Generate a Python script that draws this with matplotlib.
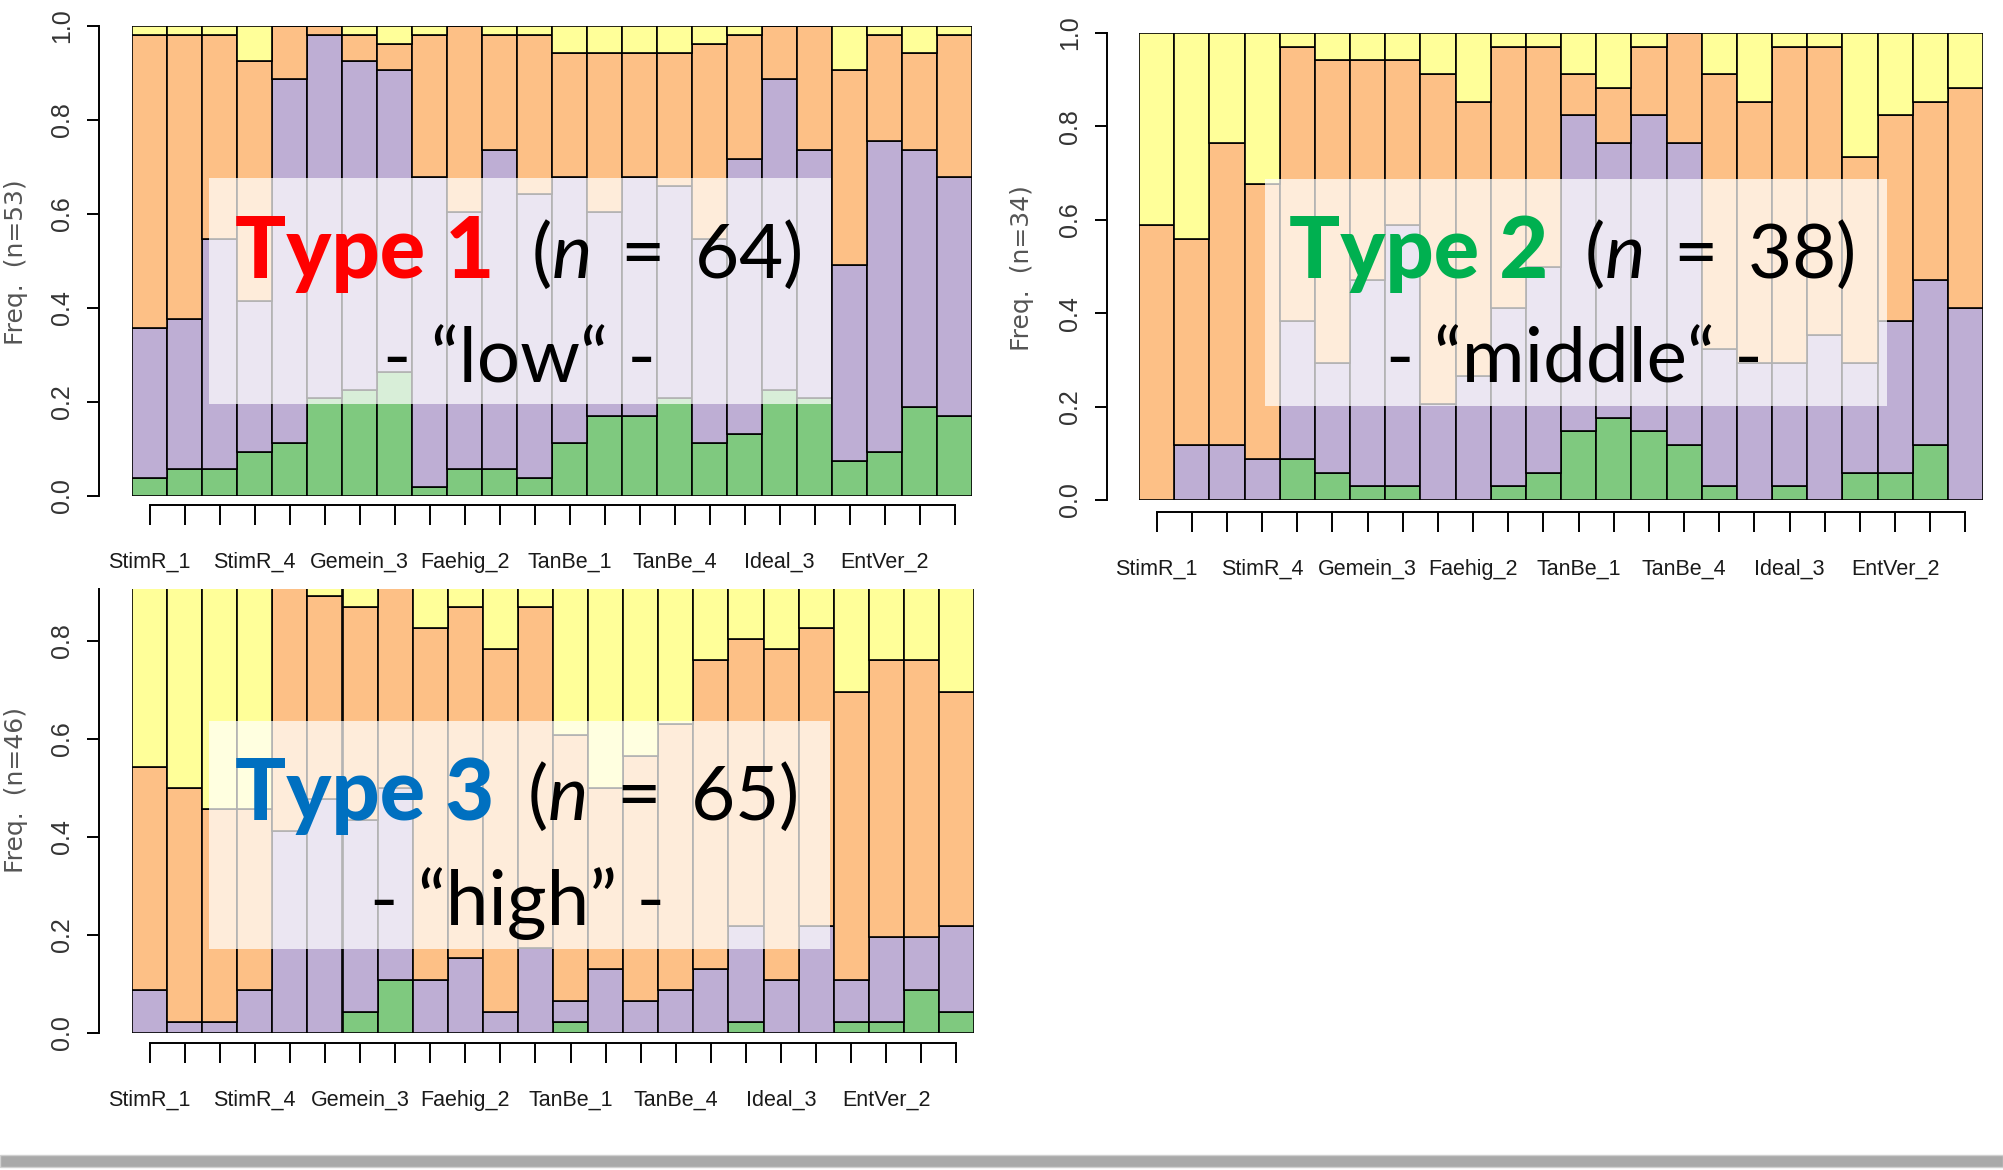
import matplotlib
matplotlib.use("Agg")
import matplotlib.pyplot as plt
from matplotlib.patches import Rectangle
import numpy as np

plt.rcParams['font.family'] = ['Liberation Sans', 'DejaVu Sans']
plt.rcParams['mathtext.fontset'] = 'custom'
plt.rcParams['mathtext.rm'] = 'Lato'
plt.rcParams['mathtext.it'] = 'Lato:italic'

W, H = 2003, 1170

# ---------------- data ----------------
item_labels = ['StimR_1', 'StimR_2', 'StimR_3', 'StimR_4',
               'Gemein_1', 'Gemein_2', 'Gemein_3', 'Gemein_4',
               'Faehig_1', 'Faehig_2', 'Faehig_3', 'Faehig_4',
               'TanBe_1', 'TanBe_2', 'TanBe_3', 'TanBe_4',
               'Ideal_1', 'Ideal_2', 'Ideal_3', 'Ideal_4',
               'EntVer_1', 'EntVer_2', 'EntVer_3', 'EntVer_4']
shown_every = 3

# Type 1 (counts out of n=53)
t1_n = 53
t1_green = [2, 3, 3, 5, 6, 11, 12, 14, 1, 3, 3, 2, 6, 9, 9, 11, 6, 7, 12, 11, 4, 5, 10, 9]
t1_purple = [17, 17, 26, 17, 41, 41, 37, 34, 35, 29, 36, 32, 30, 23, 27, 24, 23, 31, 35, 28, 22, 35, 29, 27]
t1_orange = [33, 32, 23, 27, 6, 1, 3, 3, 16, 21, 13, 18, 14, 18, 14, 15, 22, 14, 6, 14, 22, 12, 11, 16]
t1_yellow = [1, 1, 1, 4, 0, 0, 1, 2, 1, 0, 1, 1, 3, 3, 3, 3, 2, 1, 0, 0, 5, 1, 3, 1]

# Type 2 (counts out of n=34)
t2_n = 34
t2_green = [0, 0, 0, 0, 3, 2, 1, 1, 0, 0, 1, 2, 5, 6, 5, 4, 1, 0, 1, 0, 2, 2, 4, 0]
t2_purple = [0, 4, 4, 3, 10, 8, 15, 19, 7, 9, 13, 15, 23, 20, 23, 22, 10, 10, 9, 12, 8, 11, 12, 14]
t2_orange = [20, 15, 22, 20, 20, 22, 16, 12, 24, 20, 19, 16, 3, 4, 5, 8, 20, 19, 23, 21, 15, 15, 13, 16]
t2_yellow = [14, 15, 8, 11, 1, 2, 2, 2, 3, 5, 1, 1, 3, 4, 1, 0, 3, 5, 1, 1, 9, 6, 5, 4]

# Type 3 (counts out of n=46)
t3_n = 46
t3_green = [0, 0, 0, 0, 0, 0, 2, 5, 0, 0, 0, 0, 1, 0, 0, 0, 0, 1, 0, 0, 1, 1, 4, 2]
t3_purple = [4, 1, 1, 4, 19, 22, 18, 18, 5, 7, 2, 8, 2, 6, 3, 4, 6, 9, 5, 10, 4, 8, 5, 8]
t3_orange = [21, 22, 20, 17, 27, 19, 20, 23, 33, 33, 34, 32, 25, 17, 23, 25, 29, 27, 31, 28, 27, 26, 26, 22]
t3_yellow = [21, 23, 25, 25, 0, 5, 6, 0, 8, 6, 10, 6, 18, 23, 20, 17, 11, 9, 10, 8, 14, 11, 11, 14]

colors = ['#7FC97F', '#BEAED4', '#FDC086', '#FFFF99']

panels = [
    dict(n=t1_n, series=[t1_green, t1_purple, t1_orange, t1_yellow],
         box=(132, 26, 972, 496), ytop=1.0, yout=33, xout=9, ylab='Freq.  (n=53)',
         ylab_xy=(16, 262), yticks=[0, 0.2, 0.4, 0.6, 0.8, 1.0]),
    dict(n=t2_n, series=[t2_green, t2_purple, t2_orange, t2_yellow],
         box=(1139, 33, 1983, 500), ytop=1.0, yout=32, xout=12, ylab='Freq.  (n=34)',
         ylab_xy=(1022, 268), yticks=[0, 0.2, 0.4, 0.6, 0.8, 1.0]),
    dict(n=t3_n, series=[t3_green, t3_purple, t3_orange, t3_yellow],
         box=(132, 589, 974, 1033), ytop=0.906, yout=33, xout=10, ylab='Freq.  (n=46)',
         ylab_xy=(16, 790), yticks=[0, 0.2, 0.4, 0.6, 0.8]),
]

PT = 0.72  # points per pixel at dpi 100

fig = plt.figure(figsize=(W / 100, H / 100), dpi=100)
fig.patch.set_facecolor('white')

for p in panels:
    x0, y0, x1, y1 = p['box']
    ax = fig.add_axes([x0 / W, 1 - y1 / H, (x1 - x0) / W, (y1 - y0) / H])
    x = np.arange(len(item_labels))
    bottom = np.zeros(len(item_labels))
    for vals, c in zip(p['series'], colors):
        frac = np.array(vals, dtype=float) / p['n']
        ax.bar(x, frac, width=1.0, bottom=bottom, color=c, edgecolor='black',
               linewidth=1.2, align='center')
        bottom += frac
    ax.set_xlim(-0.5, len(item_labels) - 0.5)
    ax.set_ylim(0, p['ytop'])
    ax.set_facecolor('white')
    for s in ['top', 'right']:
        ax.spines[s].set_visible(False)
    ax.spines['left'].set_position(('outward', p['yout'] * PT))
    ax.spines['left'].set_bounds(0, p['ytop'])
    ax.spines['left'].set_linewidth(1.4)
    ax.spines['bottom'].set_position(('outward', p['xout'] * PT))
    ax.spines['bottom'].set_bounds(0, len(item_labels) - 1)
    ax.spines['bottom'].set_linewidth(1.4)
    ax.set_yticks(p['yticks'])
    ax.set_yticklabels(['%.1f' % v for v in p['yticks']], rotation=90,
                       va='center', fontsize=18, color='#333333')
    ax.tick_params(axis='y', length=12 * PT, width=1.4, pad=13 * PT)
    ax.set_xticks(x)
    ax.set_xticklabels([lab if i % shown_every == 0 else '' for i, lab in enumerate(item_labels)],
                       fontsize=15.5, color='#1a1a1a')
    ax.tick_params(axis='x', length=20 * PT, width=1.4, pad=27 * PT)
    lx, ly = p['ylab_xy']
    fig.text(lx / W, 1 - ly / H, p['ylab'], rotation=90, ha='center', va='center',
             fontsize=18, color='#555555', family=['DejaVu Sans'])

# ---------------- overlays ----------------
overlay_boxes = [(209, 178, 831, 404), (1265, 179, 1887, 406), (209, 721, 830, 949)]
for (bx0, by0, bx1, by1) in overlay_boxes:
    fig.patches.append(Rectangle((bx0 / W, 1 - by1 / H), (bx1 - bx0) / W, (by1 - by0) / H,
                                 transform=fig.transFigure, facecolor='white',
                                 alpha=0.7, edgecolor='none', zorder=2))

type_titles = ['Type 1', 'Type 2', 'Type 3']
type_colors = ['#FF0000', '#00B050', '#0070C0']
type_ns = ['64', '38', '65']
type_sub = ['- \u201clow\u201c -', '- \u201cmiddle\u201c -', '- \u201chigh\u201d -']
title_left = [(235, 278), (1289, 278), (235, 820)]
n_right = [(802, 278), (1855, 278), (798, 820)]
sub_center = [(519, 383), (1574, 383), (518, 925)]

for i in range(3):
    tx, ty = title_left[i]
    fig.text(tx / W, 1 - ty / H, type_titles[i], ha='left', va='baseline',
             fontsize=61, fontweight='black', color=type_colors[i],
             family=['Lato', 'DejaVu Sans'], zorder=3)
    nx, ny = n_right[i]
    fig.text(nx / W, 1 - ny / H, '($\\mathit{n}$ \u2009= \u2009%s)' % type_ns[i], ha='right',
             va='baseline', fontsize=55, color='black',
             family=['Lato', 'DejaVu Sans'], zorder=3)
    sx, sy = sub_center[i]
    fig.text(sx / W, 1 - sy / H, type_sub[i], ha='center', va='baseline',
             fontsize=55, color='black', family=['Lato', 'DejaVu Sans'], zorder=3)

# bottom gray rule
fig.patches.append(Rectangle((0, 1 - 1167 / H), 1, 12 / H, transform=fig.transFigure,
                             facecolor='#a9a9a9', edgecolor='#d0d0d0', linewidth=1, zorder=2))

fig.savefig('out.png', dpi=100, facecolor='white')
